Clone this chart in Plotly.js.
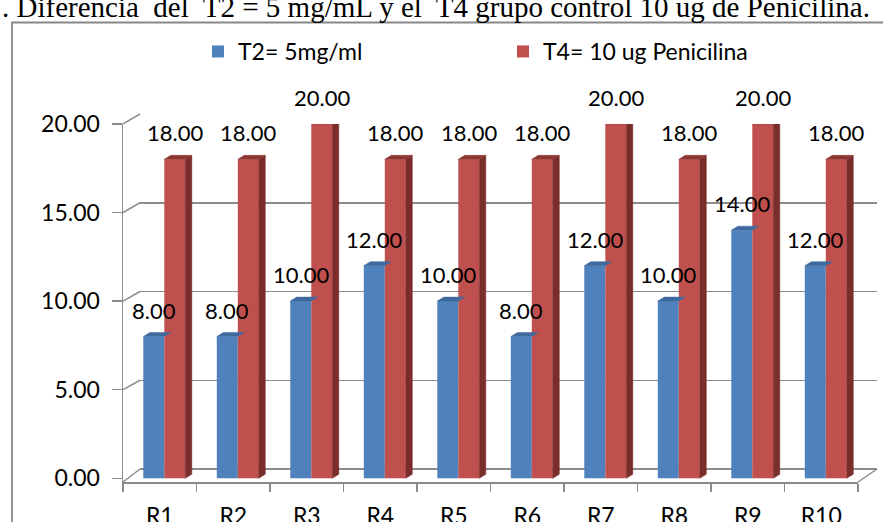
<!DOCTYPE html>
<html>
<head>
<meta charset="utf-8">
<script src="https://cdn.plot.ly/plotly-3.0.1.min.js"></script>
<style>html,body{margin:0;padding:0;background:#fff}#chart{width:883px;height:522px}</style>
</head>
<body>
<div id="chart"></div>
<script>
// ---- data ----
const categories = ["R1","R2","R3","R4","R5","R6","R7","R8","R9","R10"];
const t2Values = [8, 8, 10, 12, 10, 8, 12, 10, 14, 12];
const t4Values = [18, 18, 20, 18, 18, 18, 20, 18, 20, 18];
const seriesNames = ["T2= 5mg/ml", "T4= 10 ug Penicilina"];
const yTicks = [0, 5, 10, 15, 20];
const captionText = ". Diferencia\u00a0 del\u00a0 T2 = 5 mg/mL y el\u00a0 T4 grupo control 10 ug de Penicilina.";

// ---- geometry (pixels) ----
const W = 883, H = 522;
const FRONT = {x0: 123, x1: 858, floor: 482, zeroY: 478.3, pxPerUnit: 17.72};
const BACK  = {x0: 140, x1: 877, zeroY: 469, pxPerUnit: 17.75};
const ymaxVal = 20;
const px2fx = p => p / W;
const px2fy = p => 1 - p / H;
const catPx = (FRONT.x1 - FRONT.x0) / categories.length;
const barW = 21 / catPx;
const blueOff = -16.45 / catPx;
const redOff = 4.55 / catPx;
const dX = 6.5 / catPx;
const dY = 4 / FRONT.pxPerUnit;

const blue = "#4F81BD", red = "#C0504D";
const blueTop = "#3E6A9E", redSide = "#7B2D2B", redTop = "#8E3633";
const gridCol = "#8C8C8C";
const font = "Lato, 'Open Sans', sans-serif";

const idx = categories.map((c, i) => i);

function poly(vals, fn) {
  const xs = [], ys = [];
  vals.forEach((v, i) => {
    const pts = fn(i, v);
    pts.forEach(p => { xs.push(p[0]); ys.push(p[1]); });
    xs.push(pts[0][0]); ys.push(pts[0][1]);
    xs.push(null); ys.push(null);
  });
  return {xs, ys};
}
const blueTopPoly = poly(t2Values, (i, v) => {
  const l = i + blueOff, r = l + barW;
  return [[l, v], [r, v], [r + dX, v + dY], [l + dX, v + dY]];
});
const redTopPoly = poly(t4Values, (i, v) => {
  const l = i + redOff, r = l + barW;
  return [[l, v], [r, v], [r + dX, v + dY], [l + dX, v + dY]];
});
const redSidePoly = poly(t4Values, (i, v) => {
  const r = i + redOff + barW;
  return [[r, 0], [r, v], [r + dX, v + dY], [r + dX, dY]];
});

const faceTrace = (p, col) => ({
  type: "scatter", mode: "lines", x: p.xs, y: p.ys, fill: "toself",
  fillcolor: col, line: {color: col, width: 0.5}, xaxis: "x2", yaxis: "y2",
  hoverinfo: "skip", showlegend: false
});

const traces = [
  {type: "scatter", x: [], y: [], xaxis: "x", yaxis: "y", showlegend: false, hoverinfo: "skip"},
  {type: "bar", name: seriesNames[0], x: idx, y: t2Values, offset: blueOff, width: barW,
   marker: {color: blue}, xaxis: "x2", yaxis: "y2"},
  faceTrace(blueTopPoly, blueTop),
  {type: "bar", name: seriesNames[1], x: idx, y: t4Values, offset: redOff, width: barW,
   marker: {color: red}, xaxis: "x2", yaxis: "y2"},
  faceTrace(redSidePoly, redSide),
  faceTrace(redTopPoly, redTop)
];

const annotations = [];
t2Values.forEach((v, i) => annotations.push({
  xref: "x2", yref: "y2", x: i + blueOff + barW / 2, y: v, yanchor: "bottom", yshift: 11,
  text: v.toFixed(2), showarrow: false, font: {family: font, size: 22, color: "#000"}
}));
t4Values.forEach((v, i) => annotations.push({
  xref: "x2", yref: "y2", x: i + redOff + barW / 2, y: v, yanchor: "bottom", yshift: 11,
  text: v.toFixed(2), showarrow: false, font: {family: font, size: 22, color: "#000"}
}));
annotations.push({
  xref: "paper", yref: "paper", x: 0, xanchor: "left", y: px2fy(7), yanchor: "middle",
  text: captionText, showarrow: false,
  font: {family: "'Liberation Serif', 'Times New Roman', serif", size: 29, color: "#000"}
});

const shapes = [];
const lineStyle = {color: gridCol, width: 1.5};
yTicks.filter(t => t > 0).forEach(t => shapes.push({
  type: "line", xref: "paper", yref: "paper",
  x0: px2fx(FRONT.x0), y0: px2fy(FRONT.zeroY - t * FRONT.pxPerUnit),
  x1: px2fx(BACK.x0), y1: px2fy(BACK.zeroY - t * BACK.pxPerUnit), line: lineStyle
}));
shapes.push({type: "line", xref: "paper", yref: "paper",
  x0: px2fx(FRONT.x0), y0: px2fy(FRONT.floor), x1: px2fx(BACK.x0), y1: px2fy(BACK.zeroY), line: lineStyle});
shapes.push({type: "line", xref: "paper", yref: "paper",
  x0: px2fx(FRONT.x1), y0: px2fy(FRONT.floor), x1: px2fx(BACK.x1), y1: px2fy(BACK.zeroY), line: lineStyle});
// outer chart border
shapes.push({type: "rect", xref: "paper", yref: "paper",
  x0: px2fx(12), y0: px2fy(22.5), x1: 1.05, y1: -0.05, line: {color: "#888", width: 1.8}});

const layout = {
  width: W, height: H,
  margin: {l: 0, r: 0, t: 0, b: 0},
  paper_bgcolor: "#fff", plot_bgcolor: "rgba(0,0,0,0)",
  barmode: "overlay",
  showlegend: true,
  legend: {orientation: "h", x: px2fx(198), xanchor: "left", y: px2fy(51.5), yanchor: "middle",
    font: {family: font, size: 23, color: "#000"}, entrywidth: 260, entrywidthmode: "pixels",
    bgcolor: "rgba(0,0,0,0)", traceorder: "normal"},
  xaxis: {domain: [px2fx(BACK.x0), px2fx(BACK.x1)], range: [-0.5, 9.5], anchor: "y",
    showgrid: false, zeroline: false, showticklabels: false, ticks: "", showline: false},
  yaxis: {domain: [px2fy(BACK.zeroY), px2fy(BACK.zeroY - ymaxVal * BACK.pxPerUnit)], range: [0, ymaxVal],
    anchor: "x", tickvals: yTicks, showgrid: true, gridcolor: gridCol, gridwidth: 1.5,
    zeroline: true, zerolinecolor: gridCol, zerolinewidth: 1.5, showticklabels: false, ticks: "", showline: false},
  xaxis2: {domain: [px2fx(FRONT.x0), px2fx(FRONT.x1)], range: [-0.5, 9.5], anchor: "y2",
    tickmode: "array", tickvals: idx, ticktext: categories, ticks: "",
    showline: true, linecolor: gridCol, linewidth: 1.5, showgrid: false, zeroline: false,
    minor: {tick0: -0.5, dtick: 1, ticks: "outside", ticklen: 8, tickwidth: 1.5, tickcolor: gridCol, showgrid: false},
    tickfont: {family: font, size: 23, color: "#000"}, ticklabelstandoff: 13},
  yaxis2: {domain: [px2fy(FRONT.floor), px2fy(FRONT.zeroY - ymaxVal * FRONT.pxPerUnit)],
    range: [-(FRONT.floor - FRONT.zeroY) / FRONT.pxPerUnit, ymaxVal], anchor: "x2",
    tickmode: "array", tickvals: yTicks, tickformat: ".2f", ticks: "outside", ticklen: 10,
    tickwidth: 1.5, tickcolor: gridCol, showline: true, linecolor: gridCol, linewidth: 1.5,
    showgrid: false, zeroline: false, tickfont: {family: font, size: 23, color: "#000"},
    ticklabelstandoff: 7},
  annotations, shapes
};

Plotly.newPlot("chart", traces, layout, {displayModeBar: false, staticPlot: true});
</script>
</body>
</html>
